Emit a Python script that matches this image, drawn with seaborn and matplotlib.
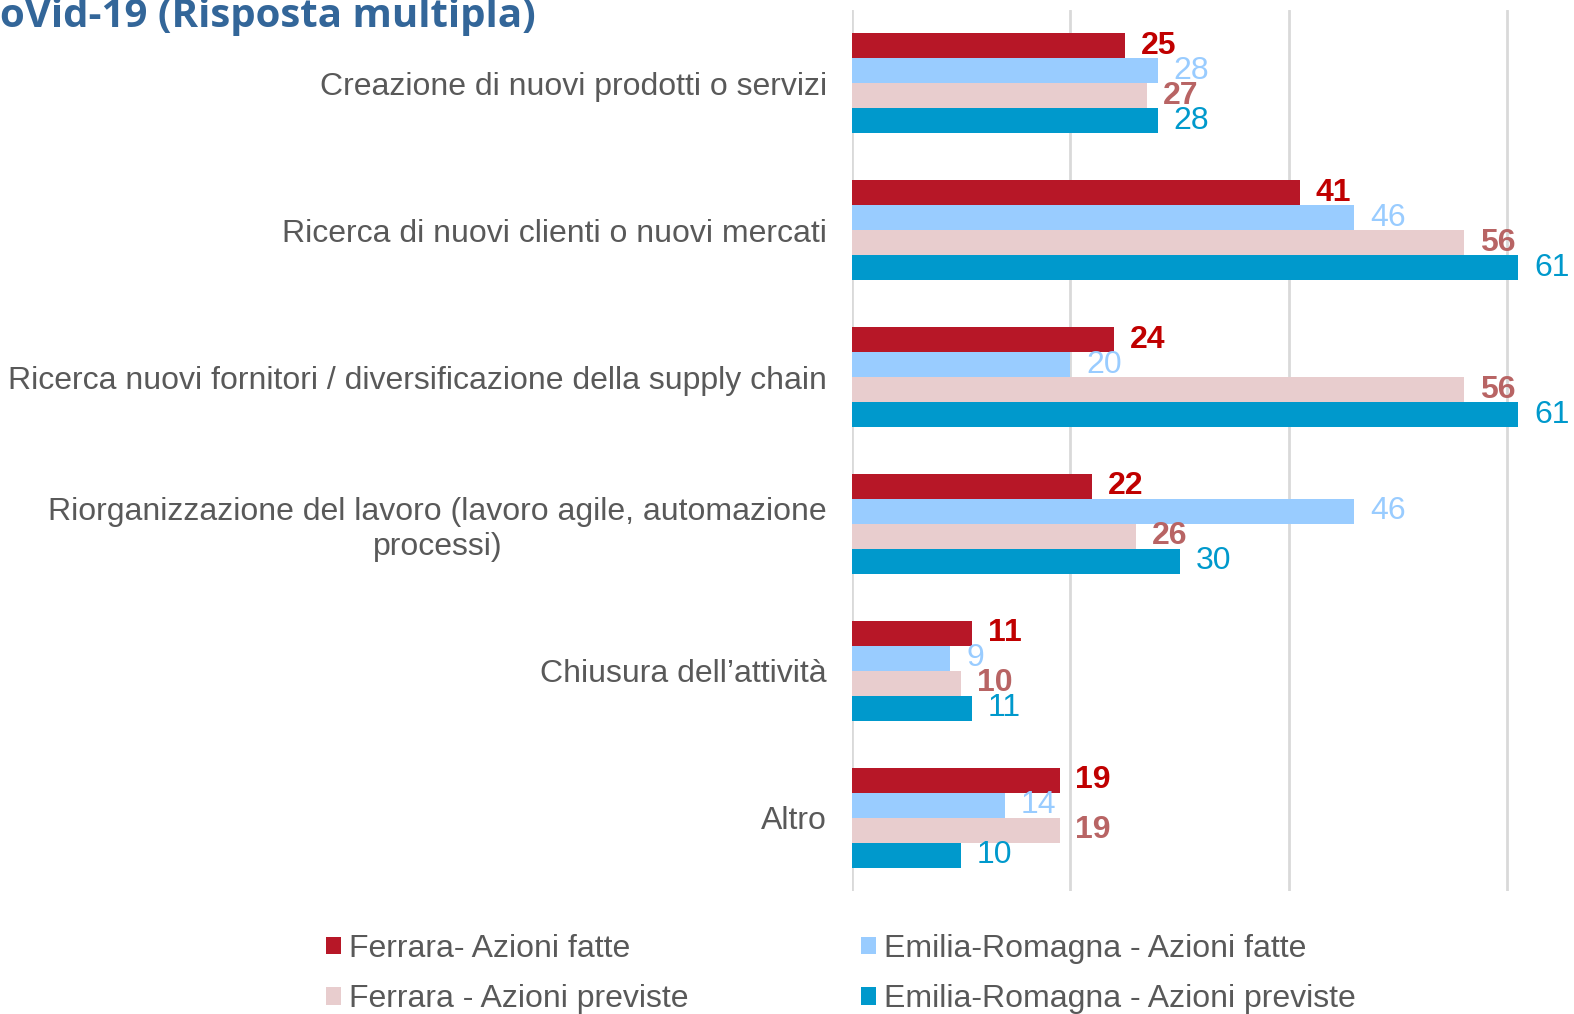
import matplotlib
matplotlib.use("Agg")
import matplotlib.pyplot as plt
import seaborn as sns
import pandas as pd
from matplotlib.patches import Patch

categories = [
    "Creazione di nuovi prodotti o servizi",
    "Ricerca di nuovi clienti o nuovi mercati",
    "Ricerca nuovi fornitori / diversificazione della supply chain",
    "Riorganizzazione del lavoro (lavoro agile, automazione\nprocessi)",
    "Chiusura dell\u2019attivit\u00e0",
    "Altro",
]
series = [
    "Ferrara- Azioni fatte",
    "Emilia-Romagna - Azioni fatte",
    "Ferrara - Azioni previste",
    "Emilia-Romagna - Azioni previste",
]
ferrara_fatte = [25, 41, 24, 22, 11, 19]
er_fatte = [28, 46, 20, 46, 9, 14]
ferrara_previste = [27, 56, 56, 26, 10, 19]
er_previste = [28, 61, 61, 30, 11, 10]
values = [ferrara_fatte, er_fatte, ferrara_previste, er_previste]

bar_colors = ["#B71727", "#99CCFF", "#E8CDCE", "#0099CC"]
label_colors = ["#C00000", "#99CCFF", "#B86464", "#0099CC"]
label_weights = ["bold", "normal", "bold", "normal"]

rows = []
for s, vals in zip(series, values):
    for c, v in zip(categories, vals):
        rows.append({"cat": c, "series": s, "val": v})
df = pd.DataFrame(rows)

sns.set_theme(style="white")
plt.rcParams["font.family"] = ["Liberation Sans", "DejaVu Sans"]

fig = plt.figure(figsize=(15.74, 10.14), dpi=100)
ax = fig.add_axes([852 / 1574, 1 - 891 / 1014, 710 / 1574, 881 / 1014])

sns.barplot(data=df, y="cat", x="val", hue="series", order=categories,
            hue_order=series, palette=bar_colors, orient="h", width=0.68,
            ax=ax, legend=False, saturation=1, edgecolor="none")

ax.set_xlim(0, 65)
ax.set_ylim(5.5, -0.5)
ax.set_xticks([0, 20, 40, 60])
ax.set_xticklabels([])
ax.grid(axis="x", color="#D9D9D9", linewidth=2)
ax.grid(axis="y", visible=False)
ax.set_axisbelow(True)
for sp in ax.spines.values():
    sp.set_visible(False)
ax.tick_params(axis="both", length=0)
ax.set_xlabel("")
ax.set_ylabel("")
ax.tick_params(axis="y", pad=18, labelsize=23, labelcolor="#595959")
for lab in ax.get_yticklabels():
    lab.set_multialignment("center")

for i, cont in enumerate(ax.containers):
    for bar, v in zip(cont, values[i]):
        y = bar.get_y() + bar.get_height() / 2
        ax.text(bar.get_width() + 1.45, y, f"{v}", va="center", ha="left",
                fontsize=23, color=label_colors[i], fontweight=label_weights[i],
                clip_on=False)

# legend filled row-wise like the reference
order = [0, 2, 1, 3]
handles = [Patch(facecolor=bar_colors[k], edgecolor="none") for k in order]
labels = [series[k] for k in order]
fig.legend(handles, labels, loc="upper left", bbox_to_anchor=(326 / 1574, 1 - 934 / 1014),
           ncol=2, frameon=False, fontsize=23, labelcolor="#595959",
           handlelength=0.47, handleheight=0.47, handletextpad=0.25,
           columnspacing=5.4, labelspacing=0.63, borderpad=0, borderaxespad=0)

fig.text(0, 1 - 27 / 1014, "oVid-19 (Risposta multipla)", fontsize=29,
         fontweight="bold", color="#336699", family=["Open Sans", "DejaVu Sans"],
         va="baseline", ha="left")

fig.savefig("out.png", dpi=100)
